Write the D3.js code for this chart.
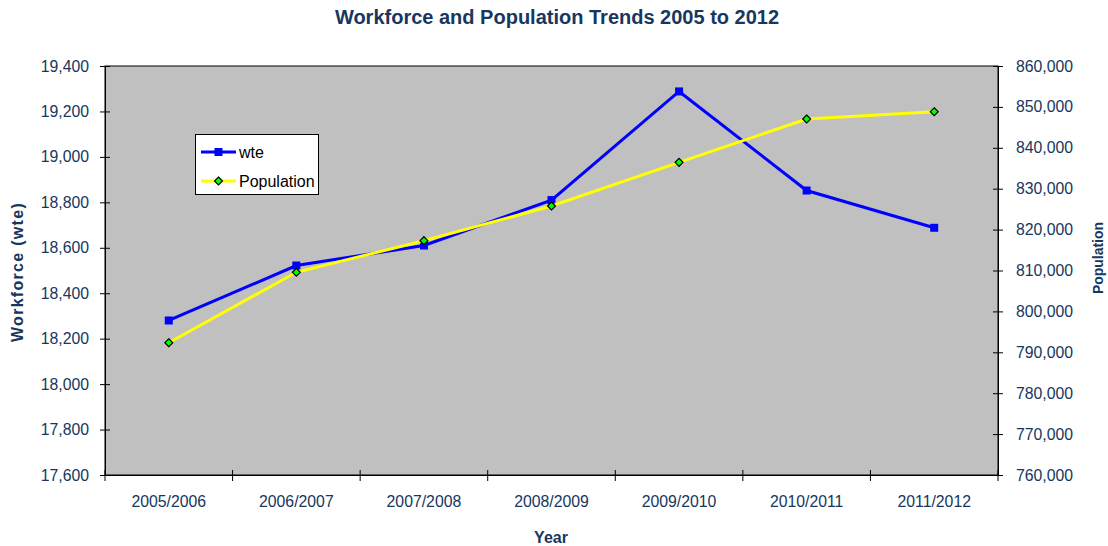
<!DOCTYPE html>
<html>
<head>
<meta charset="utf-8">
<script src="https://cdn.jsdelivr.net/npm/d3@7/dist/d3.min.js"></script>
<style>
  html, body { margin: 0; padding: 0; background: #ffffff; }
  svg { display: block; }
  text { font-family: "Liberation Sans", Arial, sans-serif; }
</style>
</head>
<body>
<svg id="chart" width="1108" height="546"></svg>
<script>
// Financial years on the category axis
const years = ["2005/2006", "2006/2007", "2007/2008", "2008/2009", "2009/2010", "2010/2011", "2011/2012"];
// Workforce, whole-time equivalent (left axis)
const wte = [18280, 18522, 18610, 18810, 19288, 18852, 18688];
// Population (right axis)
const population = [792350, 809560, 817290, 825770, 836450, 847040, 848830];
// Axis tick values
const wteTicks = [17600, 17800, 18000, 18200, 18400, 18600, 18800, 19000, 19200, 19400];
const popTicks = [760000, 770000, 780000, 790000, 800000, 810000, 820000, 830000, 840000, 850000, 860000];

const navy = "#17375E";
const svg = d3.select("#chart");
const plot = { left: 105, right: 998, top: 66, bottom: 475 };

const x = d3.scaleBand().domain(years).range([plot.left, plot.right]);
const yL = d3.scaleLinear().domain([17600, 19400]).range([plot.bottom, plot.top]);
const yR = d3.scaleLinear().domain([760000, 860000]).range([plot.bottom, plot.top]);
const cx = d => x(d) + x.bandwidth() / 2;

// Title
svg.append("text")
  .attr("x", 557).attr("y", 24)
  .attr("text-anchor", "middle")
  .attr("font-size", 20).attr("font-weight", "bold")
  .attr("fill", navy)
  .text("Workforce and Population Trends 2005 to 2012");

// Plot area
svg.append("rect")
  .attr("x", plot.left).attr("y", plot.top)
  .attr("width", plot.right - plot.left).attr("height", plot.bottom - plot.top)
  .attr("fill", "#C0C0C0").attr("stroke", "#000").attr("stroke-width", 1);

// Axes
const fmt = d3.format(",");
const leftAxis = svg.append("g")
  .attr("transform", `translate(${plot.left},0)`)
  .call(d3.axisLeft(yL).tickValues(wteTicks).tickFormat(fmt).tickSizeInner(5).tickSizeOuter(0).tickPadding(11));
const rightAxis = svg.append("g")
  .attr("transform", `translate(${plot.right},0)`)
  .call(d3.axisRight(yR).tickValues(popTicks).tickFormat(fmt).tickSizeInner(5).tickSizeOuter(0).tickPadding(13));
const bottomAxis = svg.append("g")
  .attr("transform", `translate(0,${plot.bottom})`)
  .call(d3.axisBottom(x).tickSize(0).tickPadding(21));

[leftAxis, rightAxis, bottomAxis].forEach(g => {
  g.select(".domain").attr("stroke", "#000");
  g.selectAll(".tick line").attr("stroke", "#000");
  g.selectAll(".tick text")
    .attr("fill", navy)
    .attr("font-size", 15.8)
    .attr("font-family", "'Liberation Sans', Arial, sans-serif");
});
// Ticks crossing the value axes
leftAxis.selectAll(".tick line").attr("x1", 5);
rightAxis.selectAll(".tick line").attr("x1", -5);

// Category boundary ticks
const bounds = years.map(d => x(d)).concat([plot.right]);
svg.append("g").selectAll("line").data(bounds).join("line")
  .attr("x1", d => d).attr("x2", d => d)
  .attr("y1", plot.bottom - 5).attr("y2", plot.bottom + 6)
  .attr("stroke", "#000");

// Axis titles
svg.append("text")
  .attr("x", 551).attr("y", 543)
  .attr("text-anchor", "middle")
  .attr("font-size", 16).attr("font-weight", "bold").attr("fill", navy)
  .text("Year");
svg.append("text")
  .attr("transform", "translate(23,272) rotate(-90)")
  .attr("text-anchor", "middle")
  .attr("font-size", 16).attr("font-weight", "bold").attr("fill", navy)
  .attr("letter-spacing", 1.3)
  .text("Workforce (wte)");
svg.append("text")
  .attr("transform", "translate(1103,258) rotate(-90)")
  .attr("text-anchor", "middle")
  .attr("font-size", 15).attr("font-weight", "bold").attr("fill", navy)
  .attr("textLength", 72).attr("lengthAdjust", "spacingAndGlyphs")
  .text("Population");

// wte series
const wteData = years.map((d, i) => ({ year: d, v: wte[i] }));
svg.append("path").datum(wteData)
  .attr("fill", "none").attr("stroke", "#0000FF").attr("stroke-width", 3)
  .attr("d", d3.line().x(d => cx(d.year)).y(d => yL(d.v)));
svg.append("g").selectAll("rect").data(wteData).join("rect")
  .attr("x", d => cx(d.year) - 4).attr("y", d => yL(d.v) - 4)
  .attr("width", 8).attr("height", 8)
  .attr("fill", "#0000FF");

// Population series
const popData = years.map((d, i) => ({ year: d, v: population[i] }));
svg.append("path").datum(popData)
  .attr("fill", "none").attr("stroke", "#FFFF00").attr("stroke-width", 3)
  .attr("d", d3.line().x(d => cx(d.year)).y(d => yR(d.v)));
const diamond = d3.symbol().type(d3.symbolDiamond2).size(40);
svg.append("g").selectAll("path").data(popData).join("path")
  .attr("transform", d => `translate(${cx(d.year)},${yR(d.v)})`)
  .attr("d", diamond)
  .attr("fill", "#00FF00").attr("stroke", "#000").attr("stroke-width", 1.2);

// Legend
const legend = svg.append("g");
legend.append("rect")
  .attr("x", 195.5).attr("y", 134.5).attr("width", 123).attr("height", 60)
  .attr("fill", "#fff").attr("stroke", "#000");
const items = [
  { name: "wte", color: "#0000FF", y: 152 },
  { name: "Population", color: "#FFFF00", y: 181 }
];
items.forEach((it, i) => {
  legend.append("line")
    .attr("x1", 201).attr("x2", 236).attr("y1", it.y).attr("y2", it.y)
    .attr("stroke", it.color).attr("stroke-width", 3);
  if (i === 0) {
    legend.append("rect").attr("x", 214.5).attr("y", it.y - 4).attr("width", 8).attr("height", 8).attr("fill", "#0000FF");
  } else {
    legend.append("path").attr("transform", `translate(218.5,${it.y})`).attr("d", diamond)
      .attr("fill", "#00FF00").attr("stroke", "#000").attr("stroke-width", 1.2);
  }
  legend.append("text")
    .attr("x", 239).attr("y", it.y + 5.5)
    .attr("font-size", 16).attr("fill", "#000")
    .text(it.name);
});
</script>
</body>
</html>
